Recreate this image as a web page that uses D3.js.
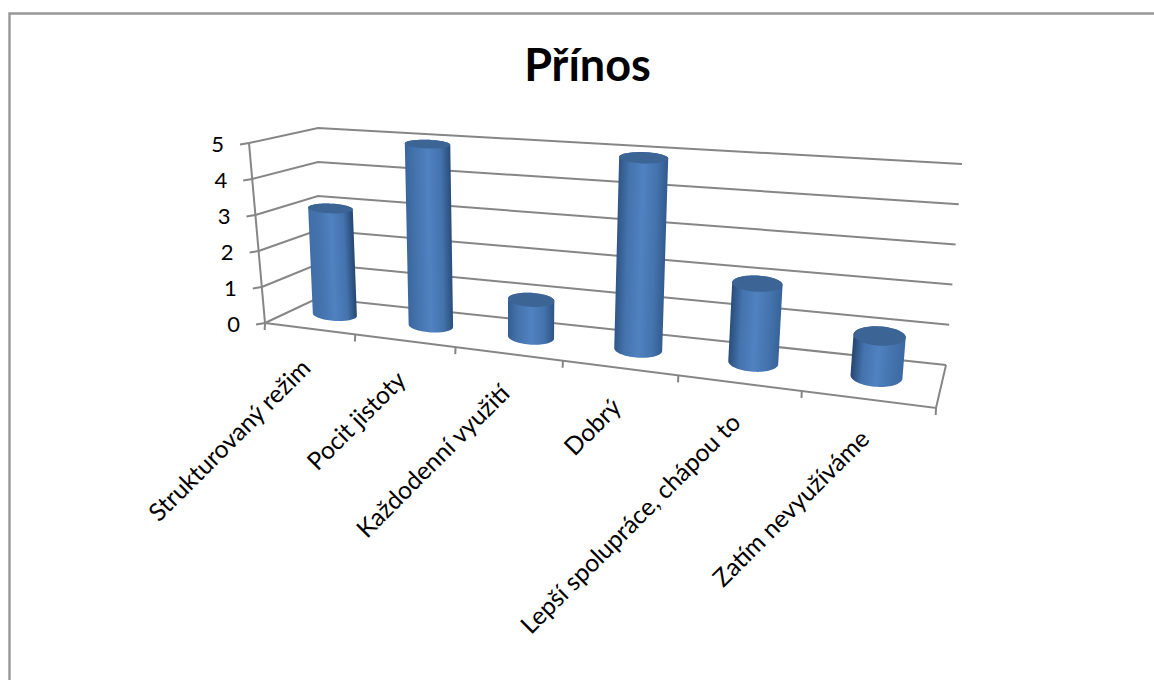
<!DOCTYPE html>
<html lang="cs">
<head>
<meta charset="utf-8">
<title>Přínos</title>
<script src="https://cdn.jsdelivr.net/npm/d3@7/dist/d3.min.js"></script>
<style>
  html, body { margin: 0; padding: 0; background: #fff; }
  svg { display: block; }
  text { font-family: Lato, "Open Sans", sans-serif; fill: #000; }
</style>
</head>
<body>
<script>
const chartTitle = "Přínos";
const categories = ["Strukturovaný režim", "Pocit jistoty", "Každodenní využití", "Dobrý", "Lepší spolupráce, chápou to", "Zatím nevyužíváme"];
const values = [3, 5, 1, 5, 2, 1];
const valueTicks = [0, 1, 2, 3, 4, 5];

const width = 1154, height = 680;
const svg = d3.select("body").append("svg").attr("width", width).attr("height", height);
const defs = svg.append("defs");

// Perspective box: each edge of the floor and ceiling is a piecewise scale
// over the category slots, so slots grow toward the near right corner.
const slots = d3.range(categories.length + 1);
const frontShare = [0, 0.1345, 0.284, 0.444, 0.616, 0.80, 1];
const backShare = [0, 0.1624, 0.309, 0.465, 0.632, 0.812, 1];
const edge = (share, a, b) => d3.scaleLinear().domain(slots)
  .range(share.map(s => [a[0] + (b[0] - a[0]) * s, a[1] + (b[1] - a[1]) * s]));

const floorFront = edge(frontShare, [265, 323], [936, 408]);
const floorBack = edge(backShare, [318, 298], [946, 365]);
const ceilFront = edge(frontShare, [249, 143], [956, 195]);
const ceilBack = edge(backShare, [318, 128], [962, 164]);

const vScale = d3.scaleLinear().domain([0, 5]).range([0, 1]);
const mix = (a, b, t) => [a[0] + (b[0] - a[0]) * t, a[1] + (b[1] - a[1]) * t];

// Project slot position c, value v and depth d (0 front, 1 back) to the page.
function project(c, v, d) {
  const floor = mix(floorFront(c), floorBack(c), d);
  const ceil = mix(ceilFront(c), ceilBack(c), d);
  return mix(floor, ceil, vScale(v));
}

// Frame of the chart area: only the top and left sides show.
const frameColor = "#979797";
svg.append("path").attr("d", `M9.5,${height}V13.5H${width}`)
  .attr("fill", "none").attr("stroke", frameColor).attr("stroke-width", 2.4);

const gridColor = "#868686";
const line = d3.line();
const grid = svg.append("g").attr("fill", "none").attr("stroke", gridColor)
  .attr("stroke-width", 2).attr("stroke-linejoin", "miter");

// Gridlines running along the left side wall and the back wall.
grid.selectAll("path.gridline").data(valueTicks).join("path").attr("class", "gridline")
  .attr("d", v => line([project(0, v, 0), project(0, v, 1), project(6, v, 1)]));

// Near floor edge with right side edge, and the value axis.
grid.append("path").attr("d", line([project(0, 0, 0), project(6, 0, 0), project(6, 0, 1)]));
grid.append("path").attr("d", line([project(0, 0, 0), project(0, 5, 0)]));

// Value ticks continue the side wall lines outward; category ticks hang below the floor edge.
grid.selectAll("path.vtick").data(valueTicks).join("path").attr("class", "vtick")
  .attr("d", v => {
    const [x, y] = project(0, v, 0);
    return line([[x, y], [x - 9, y + 1.5]]);
  });
grid.selectAll("path.ctick").data(slots).join("path").attr("class", "ctick")
  .attr("d", c => {
    const [x, y] = project(c, 0, 0);
    return line([[x, y], [x - 0.3, y + 7]]);
  });

// Value labels sit left of the axis.
svg.append("g").selectAll("text").data(valueTicks).join("text")
  .attr("text-anchor", "end")
  .attr("font-size", 22)
  .attr("x", v => project(0, v, 0)[0] - 25)
  .attr("y", v => project(0, v, 0)[1] + 9)
  .text(v => v);

// Cylinders, far left to near right. Each disc is an upright ellipse whose
// width follows the slot width and whose height follows the depth span.
const depthX = 0.42, depthY = 0.56, radiusD = 0.25, tiltShare = 0.5;
const rxFromSlot = d3.scaleLinear().domain([95, 126]).range([22, 25.8]);
const angles = d3.range(0, 2 * Math.PI, Math.PI / 36);
const discCentre = (c, v) => [project(c, v, depthX)[0], project(c, v, depthY)[1]];
function disc(c, v) {
  const [cx, cy] = discCentre(c, v);
  const slotLeft = project(c - 0.5, v, depthX), slotRight = project(c + 0.5, v, depthX);
  const slope = tiltShare * (slotRight[1] - slotLeft[1]) / (slotRight[0] - slotLeft[0]);
  const rx = rxFromSlot(slotRight[0] - slotLeft[0]);
  const ry = radiusD * Math.abs(project(c, v, 1)[1] - project(c, v, 0)[1]);
  return angles.map(a => {
    const dx = rx * Math.cos(a);
    return [cx + dx, cy + ry * Math.sin(a) + slope * dx];
  });
}

const shadeLeft = d3.scaleLinear().domain([0, 5]).range(["#3f6ea8", "#24456f"]);
const shadeRight = d3.scaleLinear().domain([0, 5]).range(["#25456f", "#3b6aa3"]);

const bars = svg.append("g");
values.forEach((value, i) => {
  const c = i + 0.5;
  const bottom = disc(c, 0), top = disc(c, value);
  const lo = discCentre(c, 0), hi = discCentre(c, value);

  // Shade across the cylinder, perpendicular to its leaning axis.
  const axisLen = Math.hypot(hi[0] - lo[0], hi[1] - lo[1]);
  const nx = -(hi[1] - lo[1]) / axisLen, ny = (hi[0] - lo[0]) / axisLen;
  const halfW = (d3.max(top, p => p[0]) - d3.min(top, p => p[0])) / 2;
  const cx = (lo[0] + hi[0]) / 2, cy = (lo[1] + hi[1]) / 2;
  const sign = nx < 0 ? -1 : 1;
  const grad = defs.append("linearGradient").attr("id", `side-${i}`)
    .attr("gradientUnits", "userSpaceOnUse")
    .attr("x1", cx - sign * nx * halfW).attr("y1", cy - sign * ny * halfW)
    .attr("x2", cx + sign * nx * halfW).attr("y2", cy + sign * ny * halfW);
  grad.append("stop").attr("offset", 0).attr("stop-color", shadeLeft(i));
  grad.append("stop").attr("offset", 0.22).attr("stop-color", "#4473ad");
  grad.append("stop").attr("offset", 0.5).attr("stop-color", "#5082c1");
  grad.append("stop").attr("offset", 0.78).attr("stop-color", "#4473ad");
  grad.append("stop").attr("offset", 1).attr("stop-color", shadeRight(i));

  bars.append("path")
    .attr("d", `M${d3.polygonHull(bottom.concat(top)).join("L")}Z`)
    .attr("fill", `url(#side-${i})`);
  bars.append("path")
    .attr("d", `M${top.join("L")}Z`)
    .attr("fill", "#3c6596");
});

// Title and slanted category labels.
svg.append("text").attr("x", 587.5).attr("y", 81)
  .attr("text-anchor", "middle").attr("font-size", 45).attr("font-weight", 700)
  .text(chartTitle);

svg.append("g").selectAll("text").data(categories).join("text")
  .attr("text-anchor", "end")
  .attr("font-size", 24.6)
  .attr("transform", (d, i) => {
    const [x, y] = project(i + 0.5, 0, 0);
    return `translate(${x + 2},${y + 41}) rotate(-45)`;
  })
  .text(d => d);
</script>
</body>
</html>
